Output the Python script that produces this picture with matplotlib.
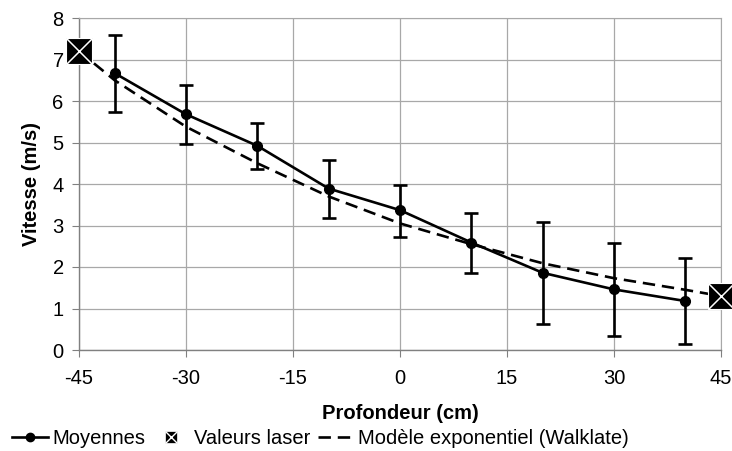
import matplotlib.pyplot as plt
from matplotlib.lines import Line2D

plt.rcParams['font.family'] = ['Liberation Sans', 'DejaVu Sans']
plt.rcParams['axes.unicode_minus'] = False

depth = [-40, -30, -20, -10, 0, 10, 20, 30, 40]
speed = [6.67, 5.68, 4.92, 3.89, 3.37, 2.59, 1.86, 1.46, 1.18]
err_up = [7.58, 6.39, 5.47, 4.57, 3.98, 3.31, 3.08, 2.57, 2.21]
err_lo = [5.73, 4.96, 4.35, 3.18, 2.73, 1.85, 0.63, 0.34, 0.14]

# valeurs laser
laser_x = [-45, 45]
laser_y = [7.2, 1.3]

# modèle exponentiel (Walklate)
model_x = [-45, -40, -30, -20, -10, 0, 10, 20, 30, 40, 45]
model_y = [7.2, 6.5, 5.38, 4.5, 3.7, 3.05, 2.55, 2.09, 1.73, 1.45, 1.3]

xticks = [-45, -30, -15, 0, 15, 30, 45]

fig = plt.figure(figsize=(7.32, 4.51), dpi=100)
ax = fig.add_axes([79 / 732, 101 / 451, 642 / 732, 332 / 451])

dash = (0, (4.7, 2.6))
ax.plot(model_x, model_y, color='black', lw=1.9, ls=dash, zorder=3)

yerr = [[s - l for s, l in zip(speed, err_lo)], [u - s for s, u in zip(speed, err_up)]]
ax.errorbar(depth, speed, yerr=yerr, color='black', lw=1.9, marker='o', ms=7,
            capsize=5, capthick=1.9, elinewidth=1.9, zorder=4)

ax.plot(laser_x, laser_y, ls='none', marker='s', ms=19, color='black',
        mec='white', mew=0.8, clip_on=False, zorder=5)
ax.plot(laser_x, laser_y, ls='none', marker='x', ms=18, color='white',
        mew=1.1, clip_on=False, zorder=6)

ax.set_xlim(-45, 45)
ax.set_ylim(0, 8)
ax.set_xticks(xticks)
ax.set_yticks(range(0, 9))
ax.grid(True, color='#a8a8a8', lw=0.9)
ax.set_axisbelow(True)
for side in ['top', 'right']:
    ax.spines[side].set_color('#a8a8a8')
for side in ['left', 'bottom']:
    ax.spines[side].set_color('#808080')
    ax.spines[side].set_linewidth(1.0)
ax.tick_params(direction='out', length=5, color='#808080', labelsize=14.5)
ax.tick_params(axis='x', pad=9)
ax.tick_params(axis='y', pad=6)

ax.set_xlabel('Profondeur (cm)', fontsize=14.5, fontweight='bold', labelpad=11)
ax.set_ylabel('Vitesse (m/s)', fontsize=14.5, fontweight='bold', labelpad=8)

h1 = Line2D([], [], color='black', lw=1.9, marker='o', ms=6)
h2 = (Line2D([], [], ls='none', marker='s', ms=9, color='black', mec='white', mew=0.5),
      Line2D([], [], ls='none', marker='x', ms=8, color='white', mew=1.0))
h3 = Line2D([], [], color='black', lw=1.9, ls=dash)
fig.legend([h1, h2, h3], ['Moyennes', 'Valeurs laser', 'Modèle exponentiel (Walklate)'],
           loc='center left', bbox_to_anchor=(12 / 732, 12 / 451), ncol=3, frameon=False,
           fontsize=14.5, handlelength=1.8, handletextpad=0.2, columnspacing=0.4,
           borderaxespad=0, borderpad=0)

fig.savefig('out.png', dpi=100)
